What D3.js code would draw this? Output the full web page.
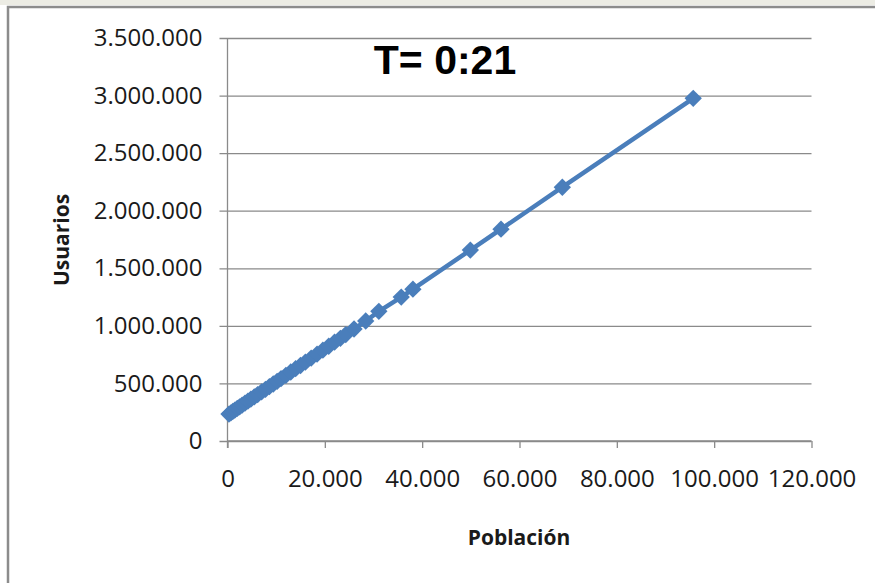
<!DOCTYPE html>
<html>
<head>
<meta charset="utf-8">
<script src="https://cdn.jsdelivr.net/npm/d3@7"></script>
<style>
  html, body { margin: 0; padding: 0; background: #ffffff; }
  svg { display: block; }
</style>
</head>
<body>
<svg id="chart" width="875" height="583"></svg>
<script>
// Población (x) y Usuarios (y)
const poblacion = [300, 700, 1100, 1500, 2000, 2500, 3000, 3600, 4200, 4800,
  5500, 6200, 7000, 7800, 8600, 9400, 10200, 11000, 12000, 13000,
  14000, 15000, 16000, 17200, 18400, 19600, 20800, 22000, 23200, 24300,
  26000, 28400, 31100, 35700, 38100, 49900, 56200, 68800, 95700];
const usuarios = [234000, 245000, 257000, 268000, 283000, 297000, 311000, 329000, 346000, 363000,
  383000, 403000, 426000, 449000, 472000, 495000, 518000, 541000, 570000, 599000,
  628000, 656000, 685000, 720000, 754000, 789000, 823000, 858000, 892000, 924000,
  973000, 1042000, 1126000, 1250000, 1319000, 1658000, 1840000, 2204000, 2976000];
const xTicks = [0, 20000, 40000, 60000, 80000, 100000, 120000];
const yTicks = [0, 500000, 1000000, 1500000, 2000000, 2500000, 3000000, 3500000];
const title = "T= 0:21";

const data = poblacion.map((p, i) => ({ x: p, y: usuarios[i] }));

const svg = d3.select("#chart");
const blue = "#4a7ebb";
const grid = "#8a8a8a";

// marco del gráfico
svg.append("rect").attr("x", 0).attr("y", 0).attr("width", 875).attr("height", 5)
  .attr("fill", "#ecece4");
svg.append("rect").attr("x", 8).attr("y", 7).attr("width", 880).attr("height", 590)
  .attr("fill", "#ffffff").attr("stroke", "#8c8c8c").attr("stroke-width", 2.5);

const x = d3.scaleLinear().domain([0, 120000]).range([227.5, 811.5]);
const y = d3.scaleLinear().domain([0, 3500000]).range([441, 38]);

const fmt = d3.formatLocale({ decimal: ",", thousands: ".", grouping: [3], currency: ["", ""] }).format(",d");

// eje y con líneas de cuadrícula
const yAxis = d3.axisLeft(y).tickValues(yTicks).tickFormat(fmt)
  .tickSize(-(x.range()[1] - x.range()[0])).tickPadding(25);
const gy = svg.append("g").attr("transform", "translate(" + x(0) + ",0)").call(yAxis);
gy.select(".domain").remove();
gy.selectAll(".tick line").attr("stroke", grid).attr("stroke-width", 1.3).attr("x1", -8);
gy.selectAll(".tick text").attr("font-family", "'Open Sans', sans-serif")
  .attr("font-size", 24).attr("fill", "#1a1a1a");

svg.append("line").attr("x1", x(0)).attr("x2", x(0)).attr("y1", y(3500000)).attr("y2", y(0) + 7)
  .attr("stroke", grid).attr("stroke-width", 1.3);

// eje x
const xAxis = d3.axisBottom(x).tickValues(xTicks).tickFormat(fmt).tickSize(7).tickPadding(22);
const gx = svg.append("g").attr("transform", "translate(0," + y(0) + ")").call(xAxis);
gx.select(".domain").attr("stroke", grid).attr("stroke-width", 1.3).attr("d", "M" + x(0) + ",0H" + x(120000));
gx.selectAll(".tick line").attr("stroke", grid).attr("stroke-width", 1.3);
gx.selectAll(".tick text").attr("font-family", "'Open Sans', sans-serif")
  .attr("font-size", 24).attr("fill", "#1a1a1a");

// serie
const line = d3.line().x(d => x(d.x)).y(d => y(d.y));
svg.append("path").datum(data).attr("d", line)
  .attr("fill", "none").attr("stroke", blue).attr("stroke-width", 4.5).attr("stroke-linejoin", "round");

const diamond = d3.symbol(d3.symbolSquare, 150);
svg.selectAll(".pt").data(data).enter().append("path").attr("class", "pt")
  .attr("d", diamond)
  .attr("transform", d => "translate(" + x(d.x) + "," + y(d.y) + ") rotate(45)")
  .attr("fill", blue);

// títulos
svg.append("text").attr("x", 445).attr("y", 74).attr("text-anchor", "middle")
  .attr("font-family", "'Liberation Sans', Arial, sans-serif").attr("font-weight", "bold")
  .attr("font-size", 41).attr("fill", "#000").text(title);

svg.append("text").attr("x", 519).attr("y", 545).attr("text-anchor", "middle")
  .attr("font-family", "'Open Sans', sans-serif").attr("font-weight", "bold")
  .attr("font-size", 21).attr("fill", "#1a1a1a").text("Población");

svg.append("text").attr("transform", "translate(69,240) rotate(-90)").attr("text-anchor", "middle")
  .attr("font-family", "'Open Sans', sans-serif").attr("font-weight", "bold")
  .attr("font-size", 21).attr("fill", "#1a1a1a").text("Usuarios");
</script>
</body>
</html>
